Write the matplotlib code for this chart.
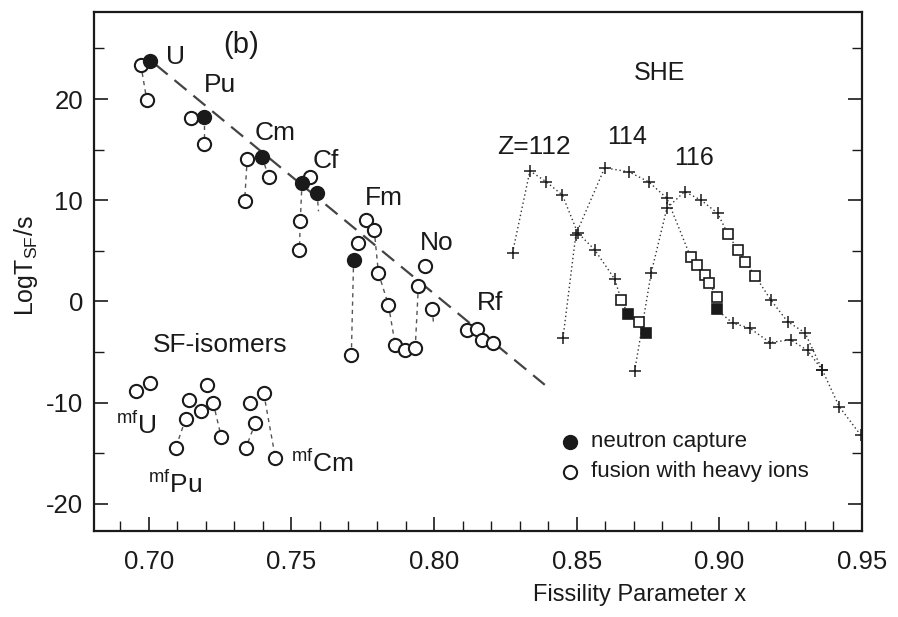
import numpy as np
import matplotlib
matplotlib.use("Agg")
import matplotlib.pyplot as plt
from matplotlib.ticker import MultipleLocator

plt.rcParams["font.family"] = ["Liberation Sans", "DejaVu Sans"]
plt.rcParams["mathtext.fontset"] = "custom"
plt.rcParams["mathtext.rm"] = "Liberation Sans"
plt.rcParams["axes.unicode_minus"] = False

INK = "#1a1a1a"

# ground states: neutron capture (filled) and heavy-ion fusion (open)
capture_x = [0.7005, 0.7193, 0.7397, 0.7537, 0.7590, 0.7718]
capture_y = [23.8, 18.2, 14.3, 11.7, 10.7, 4.1]

fusion_x = [0.6972, 0.6993, 0.7147, 0.7193, 0.7345, 0.7420, 0.7336, 0.7566,
            0.7531, 0.7528, 0.7762, 0.7790, 0.7735, 0.7805, 0.7840, 0.7864,
            0.7899, 0.7934, 0.7710, 0.7969, 0.7945, 0.7994, 0.8114, 0.8149,
            0.8167, 0.8205]
fusion_y = [23.4, 19.9, 18.1, 15.6, 14.1, 12.3, 9.9, 12.3,
            7.9, 5.1, 8.05, 7.1, 5.75, 2.8, -0.35, -4.3,
            -4.8, -4.6, -5.35, 3.45, 1.53, -0.77, -2.8, -2.75,
            -3.8, -4.07]

# isotope chains joined by short dashes
chains_x = [[0.6972, 0.6993], [0.7193, 0.7193], [0.7345, 0.7336],
            [0.7397, 0.7420], [0.7537, 0.7531, 0.7528], [0.7590, 0.7595],
            [0.7718, 0.7710], [0.7790, 0.7805], [0.7805, 0.7840, 0.7864],
            [0.7945, 0.7934], [0.7994, 0.7998],
            [0.7403, 0.7444], [0.7226, 0.7254], [0.7374, 0.7340],
            [0.7129, 0.7094]]
chains_y = [[23.4, 19.9], [18.2, 15.6], [14.1, 9.9],
            [14.3, 12.3], [11.7, 7.9, 5.1], [10.7, 8.9],
            [4.1, -5.35], [7.1, 2.8], [2.8, -0.35, -4.3],
            [1.53, -4.6], [-0.77, -2.2],
            [-9.1, -15.5], [-10.05, -13.4], [-12.0, -14.5],
            [-11.65, -14.5]]

# systematics trend line
trend_x = [0.7024, 0.8388]
trend_y = [23.4, -8.25]

# spontaneous-fission isomers
iso_x = [0.6955, 0.7005, 0.7094, 0.7129, 0.7182, 0.7141, 0.7226, 0.7203,
         0.7254, 0.7340, 0.7355, 0.7374, 0.7403, 0.7444]
iso_y = [-8.9, -8.1, -14.5, -11.65, -10.8, -9.73, -10.06, -8.25,
         -13.4, -14.5, -10.05, -12.0, -9.1, -15.5]

# superheavy element predictions
she112_x = [0.8275, 0.8336, 0.8394, 0.8450, 0.8503, 0.8563, 0.8633,
            0.8656, 0.8680, 0.8718, 0.8744]
she112_y = [4.8, 12.9, 11.8, 10.5, 6.8, 5.1, 2.2,
            0.15, -1.25, -2.0, -3.1]
she114_x = [0.8452, 0.8497, 0.8598, 0.8683, 0.8753, 0.8816, 0.8899, 0.8923,
            0.8951, 0.8965, 0.8990, 0.8990, 0.9047, 0.9107, 0.9177, 0.9250,
            0.9309, 0.9361]
she114_y = [-3.6, 6.6, 13.2, 12.8, 11.8, 10.2, 4.4, 3.6,
            2.6, 1.8, 0.45, -0.8, -2.15, -2.65, -4.07, -3.8,
            -4.85, -6.8]
she116_x = [0.8703, 0.8761, 0.8816, 0.8878, 0.8936, 0.8994, 0.9029, 0.9064,
            0.9090, 0.9126, 0.9180, 0.9239, 0.9300, 0.9361, 0.9420, 0.9495]
she116_y = [-6.9, 2.8, 9.2, 10.85, 10.0, 8.7, 6.7, 5.1,
            3.9, 2.5, 0.15, -2.0, -3.1, -6.8, -10.4, -13.2]

sq_open_x = [0.8656, 0.8718, 0.8899, 0.8923, 0.8951, 0.8965, 0.8990,
             0.9029, 0.9064, 0.9090, 0.9126]
sq_open_y = [0.15, -2.0, 4.4, 3.6, 2.6, 1.8, 0.45,
             6.7, 5.1, 3.9, 2.5]
sq_fill_x = [0.8680, 0.8744, 0.8990]
sq_fill_y = [-1.25, -3.1, -0.8]

fig = plt.figure(figsize=(8.98, 6.17), dpi=100)
ax = fig.add_axes([94 / 898, 1 - 531 / 617, 768 / 898, 519 / 617])

ax.plot(trend_x, trend_y, color="#444444", lw=1.6, ls=(0, (7, 4)), zorder=1)
for cx, cy in zip(chains_x, chains_y):
    ax.plot(cx, cy, color="#555555", lw=1.0, ls=(0, (3, 3)), zorder=1)

mk = dict(ms=9.5, mew=1.5, mec=INK, ls="none", zorder=3)
ax.plot(fusion_x, fusion_y, "o", mfc="white", **mk)
ax.plot(iso_x, iso_y, "o", mfc="white", **mk)
ax.plot(capture_x, capture_y, "o", mfc=INK, **mk)

sq_x = np.array(sq_open_x + sq_fill_x)
for sx, sy in [(she112_x, she112_y), (she114_x, she114_y), (she116_x, she116_y)]:
    sx = np.array(sx)
    sy = np.array(sy)
    ax.plot(sx, sy, color="#333333", lw=1.0, ls=(0, (1, 2)), zorder=2)
    plus = ~np.isin(sx, sq_x)
    ax.plot(sx[plus], sy[plus], "+", color=INK, ms=9, mew=1.1, ls="none", zorder=3)

ax.plot(sq_open_x, sq_open_y, "s", mfc="white", mec=INK, ms=6.5, mew=1.2, ls="none", zorder=4)
ax.plot(sq_fill_x, sq_fill_y, "s", mfc=INK, mec=INK, ms=6.5, mew=1.2, ls="none", zorder=4)

lab_fs = 19
ax.text(0.7322, 25.35, "(b)", fontsize=21, ha="center", va="center", color=INK)
for lab, lx, ly in [("U", 0.7059, 24.2), ("Pu", 0.7192, 21.4), ("Cm", 0.7371, 16.65),
                    ("Cf", 0.7573, 13.9), ("Fm", 0.7759, 10.2), ("No", 0.7951, 5.8),
                    ("Rf", 0.8150, -0.15), ("Z=112", 0.8220, 15.3),
                    ("SF-isomers", 0.7014, -4.3)]:
    ax.text(lx, ly, lab, fontsize=lab_fs, ha="left", va="center", color=INK)
for lab, lx, ly in [("SHE", 0.8700, 22.6), ("114", 0.8608, 16.25), ("116", 0.8843, 14.2)]:
    ax.text(lx, ly, lab, fontsize=18, ha="left", va="center", color=INK)

for lab, lx, ly in [("U", 0.6885, -12.2), ("Pu", 0.6997, -18.1), ("Cm", 0.7497, -15.95)]:
    ax.text(lx, ly, r"$^{\mathregular{mf}}$" + lab, fontsize=lab_fs, ha="left",
            va="center", color=INK)

# legend drawn by hand inside the frame
ax.plot([0.8476], [-13.9], "o", mfc=INK, **mk)
ax.plot([0.8476], [-16.85], "o", mfc="white", **mk)
ax.text(0.8549, -13.9, "neutron capture", fontsize=16, ha="left", va="center", color=INK)
ax.text(0.8549, -16.85, "fusion with heavy ions", fontsize=16, ha="left", va="center", color=INK)

ax.set_xlim(0.6808, 0.95)
ax.set_ylim(-22.7, 28.6)
ax.xaxis.set_major_locator(MultipleLocator(0.05))
ax.xaxis.set_minor_locator(MultipleLocator(0.01))
ax.yaxis.set_major_locator(MultipleLocator(10))
ax.yaxis.set_minor_locator(MultipleLocator(5))
ax.xaxis.set_major_formatter(plt.FuncFormatter(lambda v, p: f"{v:.2f}"))
ax.tick_params(which="both", direction="in", top=False, right=True, color=INK,
               labelsize=18.5, labelcolor=INK)
ax.tick_params(which="major", length=10, width=1.2)
ax.tick_params(which="minor", length=7, width=1.0)
ax.tick_params(axis="x", pad=14)
ax.tick_params(axis="y", pad=8)
for sp in ax.spines.values():
    sp.set_linewidth(1.6)
    sp.set_color(INK)

fig.text(640 / 898, 1 - 595 / 617, "Fissility Parameter x", fontsize=17,
         ha="center", va="center", color=INK)
fig.text(26 / 898, 1 - 266 / 617, r"LogT$_{\mathregular{SF}}$/s", fontsize=18,
         rotation=90, ha="center", va="center", color=INK)

fig.savefig("out.png", dpi=100)
